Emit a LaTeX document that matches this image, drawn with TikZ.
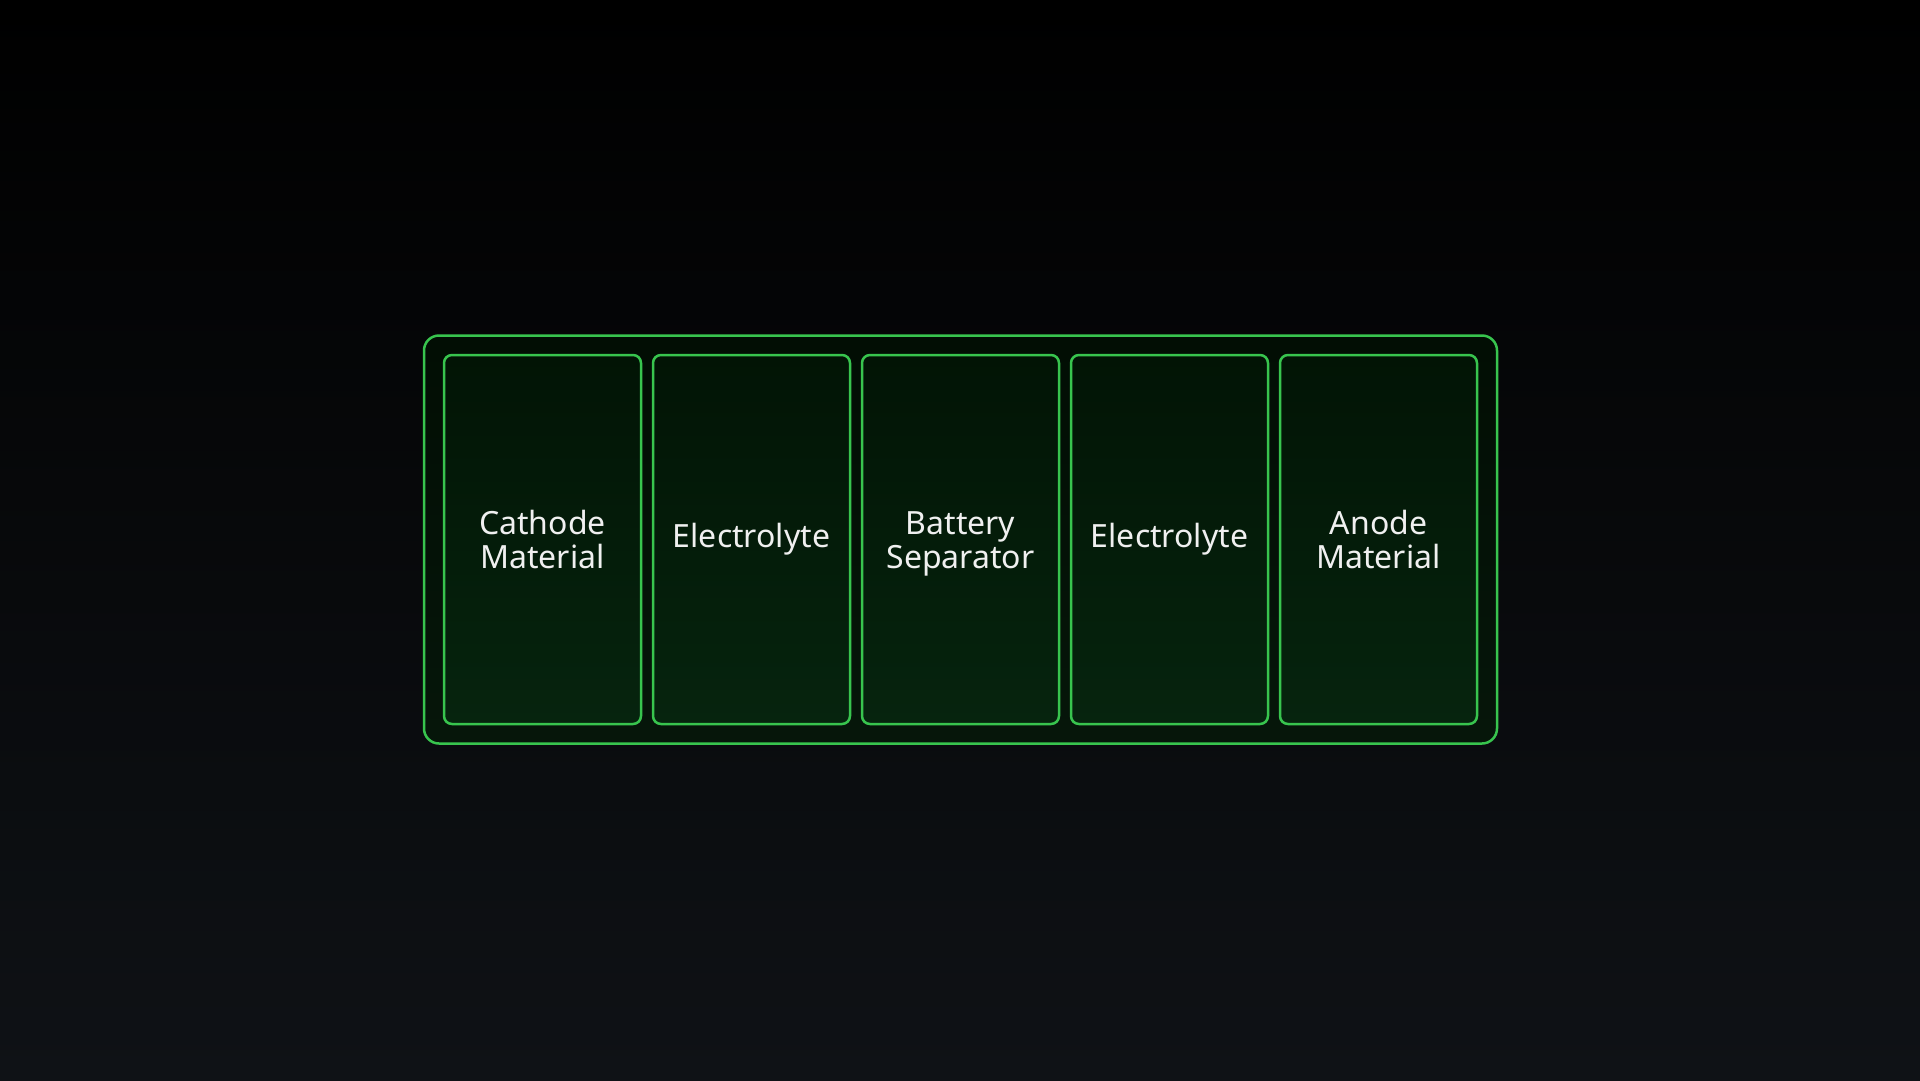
\documentclass[tikz,border=0pt]{standalone}
\usepackage{fontspec}
\setmainfont{Noto Sans}
\usetikzlibrary{positioning,fit,backgrounds}

\definecolor{bgtop}{HTML}{000000}
\definecolor{bgmid}{HTML}{07090B}
\definecolor{bgbot}{HTML}{0F1216}
\definecolor{cellline}{HTML}{38C44E}
\definecolor{celltop}{HTML}{021405}
\definecolor{cellbot}{HTML}{06240E}
\definecolor{packtop}{HTML}{020E04}
\definecolor{packbot}{HTML}{06160A}

\tikzset{
    layer/.style={draw=cellline, line width=2.5pt, rounded corners=8pt,
        minimum width=197pt, minimum height=369pt, inner sep=0pt, outer sep=0pt,
        top color=celltop, bottom color=cellbot, text=white!94!black,
        align=center, text depth=8pt, font=\fontsize{32}{34}\selectfont},
    twoline/.style={text height=65pt},
    pack/.style={draw=cellline, line width=2.5pt, rounded corners=15pt, outer sep=0pt,
        inner xsep=20pt, inner ysep=19.5pt, top color=packtop, bottom color=packbot}
}

\begin{document}
\begin{tikzpicture}[x=1pt, y=-1pt, node distance=12pt]
    \useasboundingbox (0,0) rectangle (1920,1080);
    \node[layer, twoline] (cat) at (542.5,539.5) {Cathode\\Material};
    \node[layer, right=of cat] (ela) {Electrolyte};
    \node[layer, twoline, right=of ela] (sep) {Battery\\Separator};
    \node[layer, right=of sep] (elb) {Electrolyte};
    \node[layer, twoline, right=of elb] (ano) {Anode\\Material};
    \begin{pgfonlayer}{background}
        \shade[top color=bgtop, middle color=bgmid, bottom color=bgbot]
            (0,0) rectangle (1920,1080);
        \node[pack, fit=(cat) (ela) (sep) (elb) (ano)] (cell) {};
    \end{pgfonlayer}
\end{tikzpicture}
\end{document}
